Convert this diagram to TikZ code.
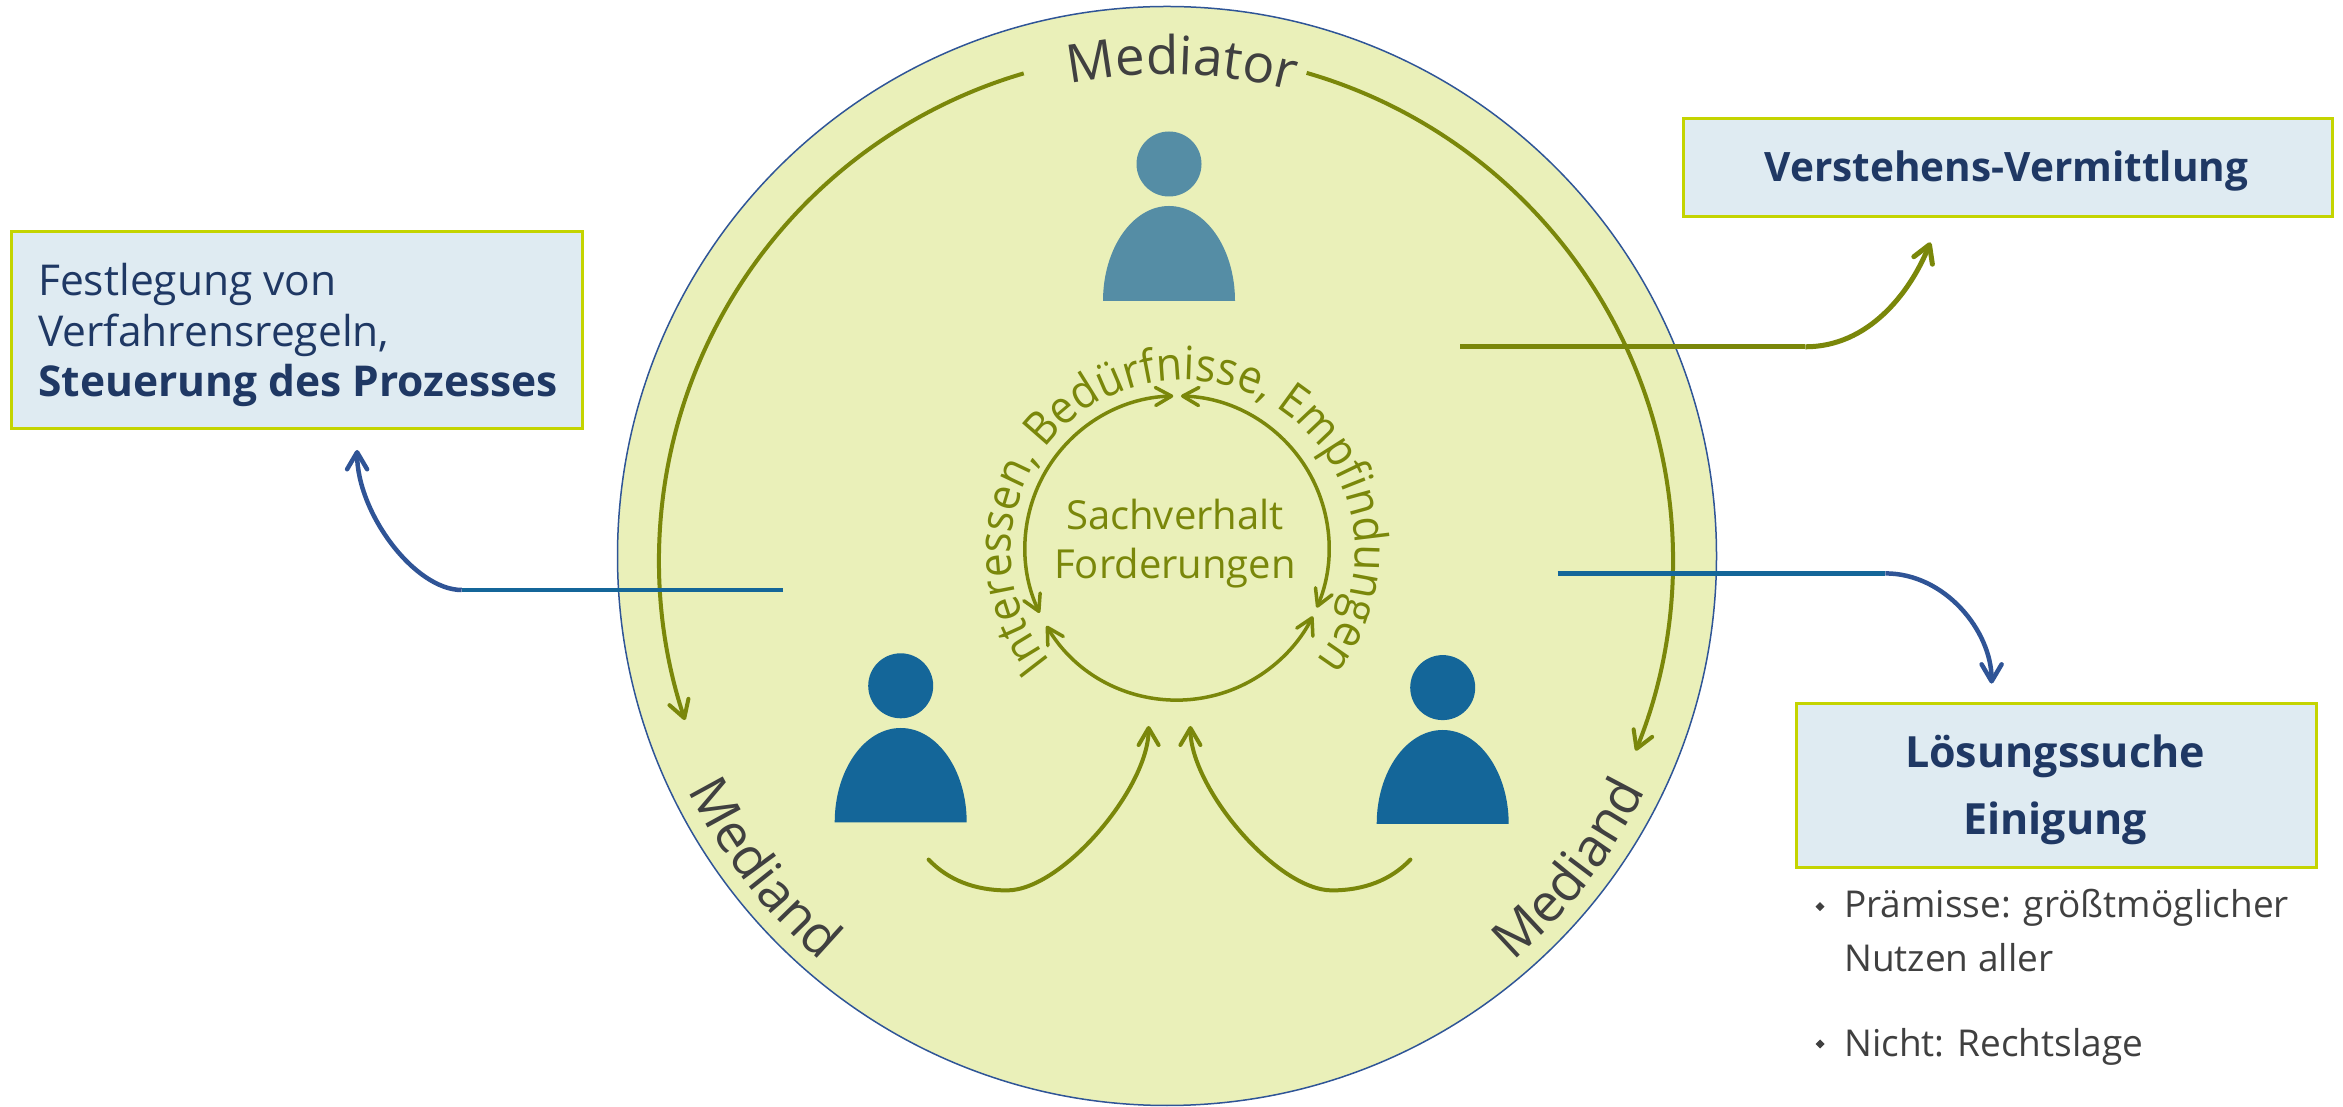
\documentclass[tikz,border=0pt]{standalone}
\usepackage{fontspec}
\setmainfont{Open Sans}
\newfontfamily\ringfam[FakeStretch=0.92]{Open Sans}
\usetikzlibrary{arrows.meta,decorations.text}
\definecolor{olivec}{RGB}{122,135,10}
\definecolor{ringfill}{RGB}{234,240,185}
\definecolor{ringedge}{RGB}{47,85,151}
\definecolor{boxfill}{RGB}{223,235,242}
\definecolor{boxedge}{RGB}{196,212,0}
\definecolor{navy}{RGB}{31,56,100}
\definecolor{greytext}{RGB}{64,64,64}
\definecolor{medblue}{RGB}{20,102,153}
\definecolor{medteal}{RGB}{85,141,165}
\definecolor{arrowblue}{RGB}{47,84,150}
\newcommand\fMed{\fontsize{53}{60}\selectfont}
\newcommand\fRing{\fontsize{40}{48}\selectfont}
\newcommand\fCurv{\ringfam\fontsize{46}{52}\selectfont}
\newcommand\fBox{\fontsize{42.5}{51}\selectfont}
\newcommand\fHead{\fontsize{42}{50}\selectfont\bfseries}
\newcommand\fList{\fontsize{37}{54}\selectfont}
\begin{document}
\begin{tikzpicture}[x=1pt,y=1pt,
  infobox/.style={draw=boxedge,line width=3pt,fill=boxfill,inner sep=0pt,anchor=south west},
  barb/.style={-{Straight Barb[length=17pt,width=20pt,round]}},
  dbarb/.style={{Straight Barb[length=16pt,width=18pt,round]}-{Straight Barb[length=16pt,width=18pt,round]}},
  oliveline/.style={draw=olivec,line width=4pt},
  ringline/.style={draw=olivec,line width=3.5pt,dbarb},
  boxtext/.style={inner sep=0pt,text=navy,font=\fBox,anchor=base west},
  headtext/.style={inner sep=0pt,text=navy,font=\fHead,anchor=base},
  listtext/.style={inner sep=0pt,text=greytext,font=\fList,anchor=base west},
  bullet/.style={fill=greytext},
  personhead/.style={circle,inner sep=0pt,minimum size=65pt},
  arctext/.style={decorate,decoration={text along path,text align=center,text color=greytext}}
]
\useasboundingbox (0,0) rectangle (2343,1106);
\coordinate (bigc) at (1167,550);
\coordinate (arcc) at (1166,546);
\coordinate (innc) at (1177,558);
\coordinate (txtc) at (1183,554);

% big circle
\node[circle,fill=ringfill,draw=ringedge,line width=1.5pt,minimum size=1099pt,inner sep=0pt] (ring) at (bigc) {};

% outer olive arcs
\draw[oliveline,barb] ([shift={(106.3:507)}]arcc) arc[start angle=106.3,end angle=198.4,radius=507];
\draw[oliveline,barb] ([shift={(73.9:507)}]arcc) arc[start angle=73.9,end angle=-22.1,radius=507];

% curved labels
\path[arctext,decoration={text={|\fMed|Mediator}}] ([shift={(128.2:486)}]arcc) arc[start angle=128.2,end angle=48.2,radius=486];
\path[arctext,decoration={text={|\fMed|Mediand}}] ([shift={(187.8:533)}]bigc) arc[start angle=187.8,end angle=247.8,radius=533];
\path[arctext,decoration={text={|\fMed|Mediand}}] ([shift={(292.2:533)}]bigc) arc[start angle=292.2,end angle=352.2,radius=533];

% inner ring
\draw[ringline] ([shift={(91.4:152)}]innc) arc[start angle=91.4,end angle=205.3,radius=152];
\draw[ringline] ([shift={(88.5:152)}]innc) arc[start angle=88.5,end angle=-23.1,radius=152];
\draw[ringline] ([shift={(210.8:152)}]innc) arc[start angle=210.8,end angle=333.3,radius=152];
\path[decorate,decoration={text along path,text align=center,text color=olivec,
  text={|\fCurv|Interessen{,} Bedürfnisse{,} Empfindungen}}]
  ([shift={(235.25:172)}]txtc) arc[start angle=235.25,end angle=-54.75,radius=172];
\node[inner sep=0pt,anchor=base,text=olivec,font=\fRing] (sach) at (1175,576) {Sachverhalt};
\node[inner sep=0pt,anchor=base,text=olivec,font=\fRing] (ford) at (1175,527.7) {Forderungen};

% persons
\node[personhead,fill=medteal] (medhead) at (1169,942) {};
\fill[medteal] (1103,805) arc[start angle=180,end angle=0,x radius=66,y radius=95] -- cycle;
\node[personhead,fill=medblue] (lhead) at (900.7,420.2) {};
\fill[medblue] (834.7,283.7) arc[start angle=180,end angle=0,x radius=66,y radius=94.3] -- cycle;
\node[personhead,fill=medblue] (rhead) at (1442.7,418.4) {};
\fill[medblue] (1376.7,282) arc[start angle=180,end angle=0,x radius=66,y radius=94] -- cycle;

% bottom arrows
\coordinate (lstart) at (928.6,246.4);
\coordinate (ltip) at (1148.6,380);
\coordinate (rstart) at (1410.4,246.4);
\coordinate (rtip) at (1190.4,380);
\draw[oliveline,line cap=round,barb] (lstart) .. controls (948,226) and (975,215.6) .. (1007,215.6)
  .. controls (1062,215.6) and (1148.6,318) .. (ltip);
\draw[oliveline,line cap=round,barb] (rstart) .. controls (1391,226) and (1364,215.6) .. (1332,215.6)
  .. controls (1277,215.6) and (1190.4,318) .. (rtip);

% boxes
\node[infobox,minimum width=571pt,minimum height=197pt] (lbox) at (10,676) {};
\node[boxtext] (l1) at (38,810) {Festlegung von};
\node[boxtext] (l2) at (38,759.3) {Verfahrensregeln,};
\node[boxtext,font=\fBox\bfseries] (l3) at (38,709) {Steuerung des Prozesses};

\node[infobox,minimum width=649pt,minimum height=98pt] (vbox) at (1682,888) {};
\node[headtext,font=\fontsize{40.5}{50}\selectfont\bfseries] (vtext) at (2006.5,924) {Verstehens-Vermittlung};

\node[infobox,minimum width=520pt,minimum height=164pt] (sbox) at (1795,237) {};
\node[headtext,font=\fontsize{43}{50}\selectfont\bfseries] (s1) at (2055,338) {Lösungssuche};
\node[headtext,font=\fontsize{43}{50}\selectfont\bfseries] (s2) at (2055,271) {Einigung};

% bullet list
\fill[bullet] (1820,199.3) +(-4.5,0) -- +(0,4.5) -- +(4.5,0) -- +(0,-4.5) -- cycle;
\fill[bullet] (1820,62) +(-4.5,0) -- +(0,4.5) -- +(4.5,0) -- +(0,-4.5) -- cycle;
\node[listtext] (b1) at (1844,188) {Prämisse: größtmöglicher};
\node[listtext] (b2) at (1844,134) {Nutzen aller};
\node[listtext] (b3) at (1844,49) {Nicht: Rechtslage};

% connectors to boxes
\coordinate (lA) at (783,516);
\coordinate (lB) at (461.7,516);
\coordinate (lT) at (357.1,656);
\draw[medblue,line width=4.5pt] (lA) -- (lB);
\draw[arrowblue,line width=4.5pt,barb] (lB) .. controls (414.7,516) and (357.1,593) .. (lT);

\coordinate (vA) at (1460,759.2);
\coordinate (vB) at (1805.4,759.2);
\coordinate (vT) at (1930.4,863.6);
\draw[olivec,line width=5pt] (vA) -- (vB);
\draw[olivec,line width=5pt,barb] (vB) .. controls (1868,759.2) and (1909.8,812.6) .. (vT);

\coordinate (sA) at (1557.6,532.6);
\coordinate (sB) at (1885.4,532.6);
\coordinate (sT) at (1991.6,422.4);
\draw[medblue,line width=4.5pt] (sA) -- (sB);
\draw[arrowblue,line width=4.5pt,barb] (sB) .. controls (1945,532.6) and (1991.6,475) .. (sT);
\end{tikzpicture}
\end{document}
